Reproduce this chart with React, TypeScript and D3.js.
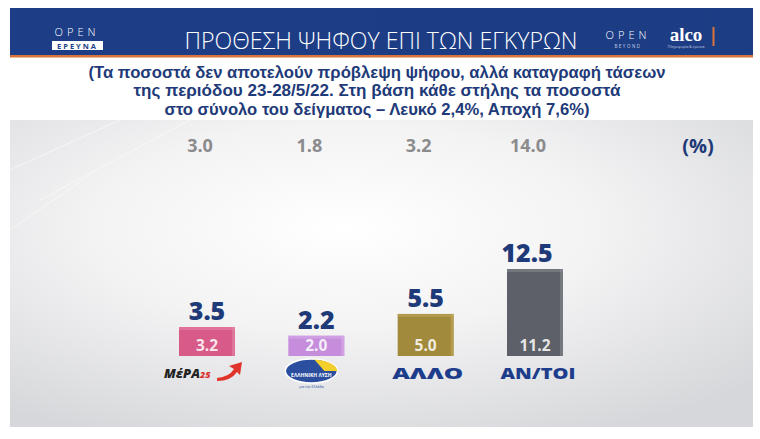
import React from "react";
import * as d3 from "d3";

const categories = ["ΜέΡΑ25", "ΕΛΛΗΝΙΚΗ ΛΥΣΗ", "ΑΛΛΟ", "ΑΝ/ΤΟΙ"];
const barValues = [3.2, 2.0, 5.0, 11.2];
const validValues = [3.5, 2.2, 5.5, 12.5];
const topValues = [3.0, 1.8, 3.2, 14.0];
const barColors = ["#d75a88", "#c58ddc", "#a18a3c", "#5d6068"];
const sideColors = ["#e58aab", "#dab2ea", "#c2ab5c", "#8a8d94"];
const title = "ΠΡΟΘΕΣΗ ΨΗΦΟΥ ΕΠΙ ΤΩΝ ΕΓΚΥΡΩΝ";
const subtitleLines = [
  "(Τα ποσοστά δεν αποτελούν πρόβλεψη ψήφου, αλλά καταγραφή τάσεων",
  "της περιόδου 23-28/5/22. Στη βάση κάθε στήλης τα ποσοστά",
  "στο σύνολο του δείγματος – Λευκό 2,4%, Αποχή 7,6%)",
];
const subtitleWidths = [577, 487, 425];

const W = 760;
const H = 439;

export default function App() {
  const x = d3.scalePoint<string>().domain(categories).range([207, 535]);
  const y = d3.scaleLinear().domain([-0.8, 11.2]).range([356, 269]);
  const bw = 56;
  const base = y(-0.8);
  const navy = "#1e3a78";
  const font = "'Open Sans', 'Noto Sans', sans-serif";

  return (
    <svg width={W} height={H} style={{ position: "absolute", left: 0, top: 0, background: "#fff" }}>
      <defs>
        <radialGradient id="bg" cx="0.45" cy="0.35" r="0.75">
          <stop offset="0" stopColor="#ffffff" />
          <stop offset="0.45" stopColor="#f3f3f4" />
          <stop offset="1" stopColor="#d6d7da" />
        </radialGradient>
        <linearGradient id="hdr" x1="0" x2="1" y1="0" y2="0">
          <stop offset="0" stopColor="#1d3e86" />
          <stop offset="1" stopColor="#1c3c84" />
        </linearGradient>
      </defs>

      {/* header */}
      <rect x={10} y={8} width={743} height={47} fill="url(#hdr)" />
      <rect x={10} y={55} width={743} height={2.5} fill="#d9733a" />
      <text x={381} y={49} textAnchor="middle" fill="#fff" fontFamily={font} fontSize={24} fontWeight={300}
        textLength={393} lengthAdjust="spacingAndGlyphs">{title}</text>

      {/* left logo */}
      <text x={77} y={36} textAnchor="middle" fill="#fff" fontFamily={font} fontSize={11} fontWeight={300}
        letterSpacing={4}>OPEN</text>
      <rect x={52} y={41} width={51} height={9} fill="#fff" />
      <text x={77.5} y={48.5} textAnchor="middle" fill="#1d3e86" fontFamily={font} fontSize={7.5} fontWeight={700}
        letterSpacing={2}>ΕΡΕΥΝΑ</text>

      {/* right logos */}
      <text x={628} y={39} textAnchor="middle" fill="#fff" fontFamily={font} fontSize={11} fontWeight={300}
        letterSpacing={4}>OPEN</text>
      <text x={628} y={48} textAnchor="middle" fill="#c8d0e6" fontFamily={font} fontSize={4.5} letterSpacing={1.5}>BEYOND</text>
      <text x={686} y={41} textAnchor="middle" fill="#fff" fontFamily="'Liberation Serif', serif" fontSize={19}
        fontWeight={700}>alco</text>
      <text x={686} y={48} textAnchor="middle" fill="#c8d0e6" fontFamily={font} fontSize={3.5}>Πληροφορία &amp; έρευνα</text>
      <rect x={712.5} y={27} width={2} height={19} fill="#d9733a" />

      {/* subtitle */}
      {subtitleLines.map((t, i) => (
        <text key={i} x={377} y={78 + i * 18.3} textAnchor="middle" fill={navy}
          fontFamily="'Liberation Sans', Arial, sans-serif"
          fontSize={15.6} fontWeight={700} textLength={subtitleWidths[i]} lengthAdjust="spacingAndGlyphs">{t}</text>
      ))}

      {/* chart area */}
      <rect x={10} y={120} width={743} height={307} fill="url(#bg)" />
      <path d="M10,170 L120,120 M40,200 L190,120 M10,230 L90,175" stroke="#ffffff" strokeOpacity={0.5} strokeWidth={1} fill="none" />

      {/* top (total-sample) values */}
      {categories.map((c, i) => (
        <text key={"t" + i} x={(x(c) as number) - 7} y={152} textAnchor="middle" fill="#8b8b8d"
          fontFamily={font} fontSize={18} fontWeight={700}>{topValues[i].toFixed(1)}</text>
      ))}
      <text x={698} y={153} textAnchor="middle" fill={navy} fontFamily={font} fontSize={20} fontWeight={700}>(%)</text>

      {/* bars */}
      {categories.map((c, i) => {
        const cx = x(c) as number;
        const top = y(barValues[i]);
        const h = base - top;
        return (
          <g key={"b" + i}>
            <rect x={cx - bw / 2} y={top} width={bw} height={h} fill={barColors[i]} />
            <rect x={cx + bw / 2 - 3} y={top} width={3} height={h} fill={sideColors[i]} opacity={0.55} />
            <rect x={cx - bw / 2} y={top} width={bw} height={3} fill={sideColors[i]} opacity={0.5} />
            <text x={cx} y={350.5} textAnchor="middle" fill="#ffffff" fillOpacity={0.85} fontFamily={font}
              fontSize={15.5} fontWeight={700}>{barValues[i].toFixed(1)}</text>
            <text x={cx - (i === 3 ? 8 : 0)} y={top - 7} textAnchor="middle" fill={navy} fontFamily={font}
              fontSize={25} fontWeight={800}>{validValues[i].toFixed(1)}</text>
          </g>
        );
      })}

      {/* category labels / logos */}
      {(() => {
        const c0 = x(categories[0]) as number;
        const c1 = x(categories[1]) as number;
        const c2 = x(categories[2]) as number;
        const c3 = x(categories[3]) as number;
        return (
          <g>
            {/* MeRA25 logo */}
            <text x={c0 - 43} y={378} fill="#222" fontFamily={font} fontSize={13} fontWeight={800}
              fontStyle="italic">ΜέΡΑ<tspan fill="#d8342c" fontSize={9}>25</tspan></text>
            <path d={`M${c0 + 10},378 Q${c0 + 22},377 ${c0 + 27},369 L${c0 + 22},366 L${c0 + 35},362 L${c0 + 33},375 L${c0 + 30},372 Q${c0 + 24},381 ${c0 + 10},381 Z`}
              fill="#e0342b" />
            {/* Greek Solution logo */}
            <ellipse cx={c1 - 5} cy={371} rx={26} ry={12} fill="#2b4e9e" stroke="#ffffff" strokeWidth={1.5} />
            <path d={`M${c1 - 2},359.5 A26,12 0 0 1 ${c1 + 21},371 L${c1 + 8},371 Z`} fill="#f2cf2a" />
            <text x={c1 - 5} y={377} textAnchor="middle" fill="#fff" fontFamily={font} fontSize={5} fontWeight={700}>ΕΛΛΗΝΙΚΗ ΛΥΣΗ</text>
            <text x={c1 - 5} y={388} textAnchor="middle" fill="#2b4e9e" fontFamily={font} fontSize={3.5}>για την Ελλάδα</text>
            {/* text labels */}
            <text x={c2 + 2} y={379} textAnchor="middle" fill="#1d3d8c" fontFamily={font} fontSize={15} fontWeight={800}
              textLength={71} lengthAdjust="spacingAndGlyphs">ΑΛΛΟ</text>
            <text x={c3 + 3} y={379} textAnchor="middle" fill="#1d3d8c" fontFamily={font} fontSize={15} fontWeight={800}
              textLength={75} lengthAdjust="spacingAndGlyphs">ΑΝ/ΤΟΙ</text>
          </g>
        );
      })()}
    </svg>
  );
}
